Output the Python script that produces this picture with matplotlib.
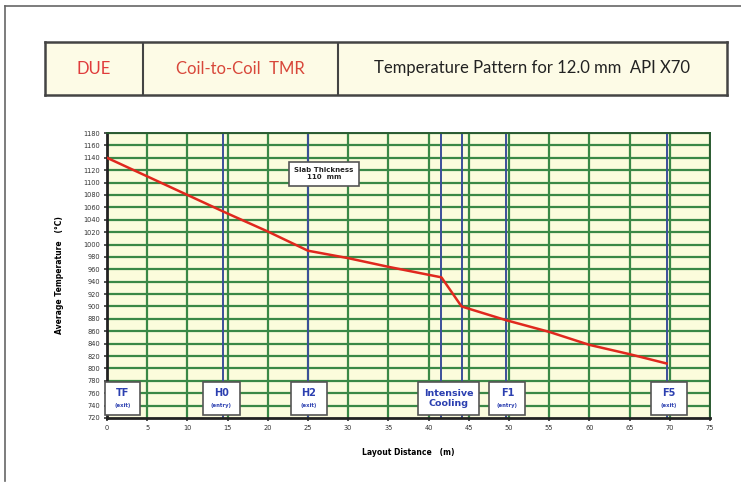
import numpy as np
import matplotlib
matplotlib.use('Agg')
import matplotlib.pyplot as plt
from matplotlib.patches import Rectangle
from matplotlib.lines import Line2D

# ── data ─────────────────────────────────────────────────────────────────────
dist_m = [0, 5, 10, 15, 20, 25, 30, 35, 41.6, 44.1, 49.6, 55, 60, 65, 69.6]
temp_c = [1140, 1110, 1080, 1050, 1021, 990, 978, 964, 947, 900, 878, 859, 838, 823, 808]

station_x   = [14.4, 25.0, 41.6, 44.1, 49.6, 69.6]     # blue vertical lines
label_names = ['TF', 'H0', 'H2', 'Intensive\nCooling', 'F1', 'F5']
label_subs  = ['(exit)', '(entry)', '(exit)', None, '(entry)', '(exit)']
label_xc    = [1.9, 14.2, 25.1, 42.5, 49.8, 69.9]
label_w     = [4.4, 4.6, 4.5, 7.6, 4.5, 4.4]

header_texts  = ['DUE', 'Coil-to-Coil  TMR', 'Temperature Pattern for 12.0 mm  API X70']
header_colors = ['#e03c3c', '#d8473a', '#222222']

xticks = np.arange(0, 76, 5)
yticks = np.arange(720, 1181, 20)

GRID  = '#3a8846'
BLUE  = '#3c4f9a'
TXTB  = '#2b3fb0'
FONT  = ['Lato', 'DejaVu Sans']

# ── figure ───────────────────────────────────────────────────────────────────
W, H = 741, 483
fig = plt.figure(figsize=(W / 100, H / 100), dpi=100)
fig.patch.set_facecolor('white')

# outer frame (left + top)
fig.add_artist(Line2D([5 / W, 5 / W], [1 - 6 / H, 1 - 481 / H], color='#666666', lw=1.2))
fig.add_artist(Line2D([5 / W, 1.0], [1 - 6 / H, 1 - 6 / H], color='#666666', lw=1.2))

# ── header ───────────────────────────────────────────────────────────────────
hx0, hx1, hy0, hy1 = 45, 727, 42, 95
axh = fig.add_axes([hx0 / W, 1 - hy1 / H, (hx1 - hx0) / W, (hy1 - hy0) / H])
axh.set_xlim(hx0, hx1)
axh.set_ylim(0, 1)
axh.set_facecolor('#fdfbe6')
for s in axh.spines.values():
    s.set_color('#444444')
    s.set_linewidth(1.8)
axh.set_xticks([])
axh.set_yticks([])
dividers = [143, 338]
for d in dividers:
    axh.axvline(d, color='#444444', lw=1.5)
edges = [hx0] + dividers + [hx1]
for i, t in enumerate(header_texts):
    axh.text((edges[i] + edges[i + 1]) / 2, 0.5, t, ha='center', va='center',
             fontsize=12, color=header_colors[i], family=FONT)

# ── main plot ────────────────────────────────────────────────────────────────
px0, px1, py0, py1 = 107, 710, 133, 418
ax = fig.add_axes([px0 / W, 1 - py1 / H, (px1 - px0) / W, (py1 - py0) / H])
ax.set_facecolor('#fbfcdc')
ax.set_xlim(0, 75)
ax.set_ylim(720, 1180)
ax.set_xticks(xticks)
ax.set_yticks(yticks)
ax.tick_params(labelsize=4.8, length=2, width=1.2, colors='#333333', pad=3)
for v in xticks[1:]:
    ax.axvline(v, color=GRID, lw=1.6, zorder=1)
for v in yticks[1:]:
    ax.axhline(v, color=GRID, lw=1.6, zorder=1)
for v in station_x:
    ax.axvline(v, color=BLUE, lw=1.4, zorder=2)

ax.plot(dist_m, temp_c, color='#e0281e', lw=1.8, zorder=4)

for s in ['left', 'bottom']:
    ax.spines[s].set_color('#222222')
    ax.spines[s].set_linewidth(2)
for s in ['top', 'right']:
    ax.spines[s].set_color('#2a5a30')
    ax.spines[s].set_linewidth(1.4)

# station label boxes
by0, by1 = 725, 778
for name, sub, xc, w in zip(label_names, label_subs, label_xc, label_w):
    ax.add_patch(Rectangle((xc - w / 2, by0), w, by1 - by0, facecolor='white',
                           edgecolor='#555555', lw=1.2, zorder=5, clip_on=False))
    if sub is None:
        ax.text(xc, (by0 + by1) / 2, name, ha='center', va='center', fontsize=6.8,
                fontweight='bold', color=TXTB, zorder=6, linespacing=1.15)
    else:
        ax.text(xc, 760, name, ha='center', va='center', fontsize=7,
                fontweight='bold', color=TXTB, zorder=6)
        ax.text(xc, 740, sub, ha='center', va='center', fontsize=3.8,
                fontweight='bold', color=TXTB, zorder=6)

# slab thickness note
ax.text(27.0, 1114, 'Slab Thickness\n110  mm', ha='center', va='center',
        fontsize=5, fontweight='bold', color='#222222', zorder=6,
        bbox=dict(boxstyle='square,pad=0.8', facecolor='white', edgecolor='#555555', lw=1.2))

ax.set_xlabel('Layout Distance   (m)', fontsize=5.5, fontweight='bold', labelpad=12)
ax.set_ylabel('Average Temperature   (\u00b0C)', fontsize=5.5, fontweight='bold', labelpad=14)

fig.savefig('out.png', dpi=100)
